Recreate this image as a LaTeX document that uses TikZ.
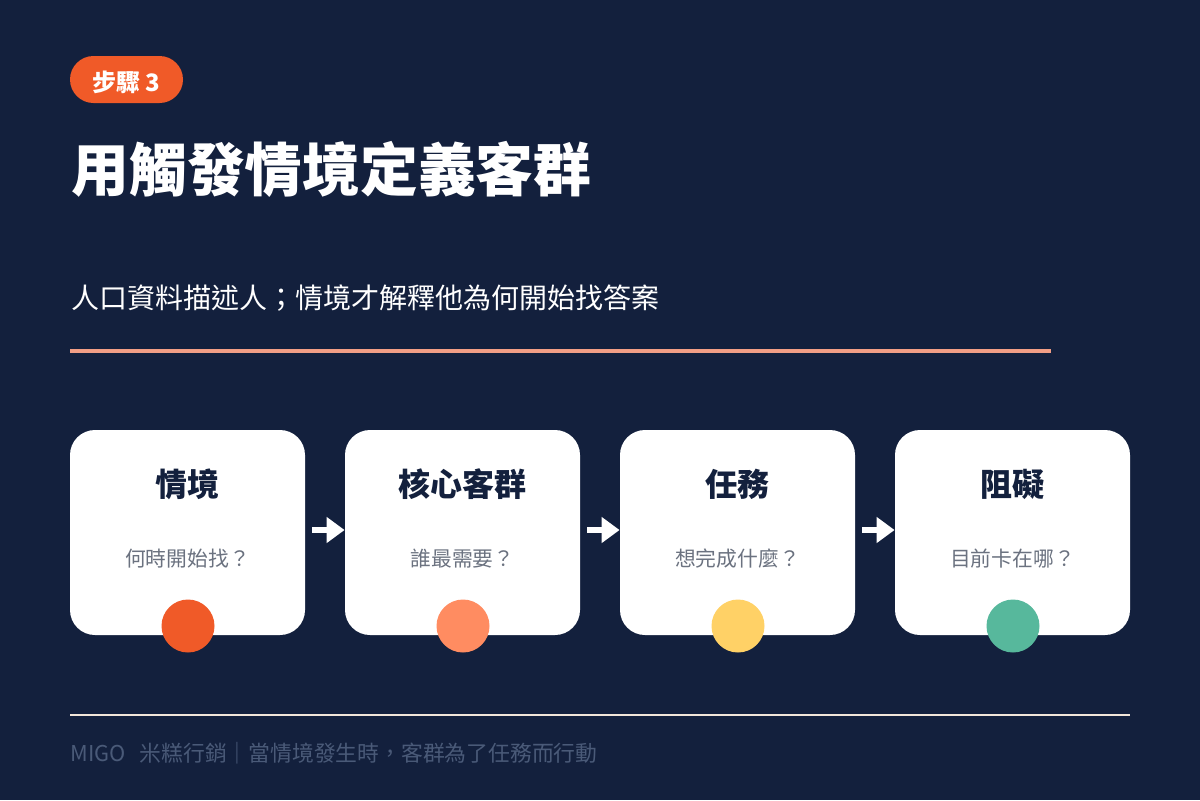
\documentclass[tikz,border=0pt]{standalone}
\usepackage{fontspec}
\setmainfont{Noto Sans CJK TC}
\usetikzlibrary{arrows.meta}
\definecolor{bg}{HTML}{13203D}
\definecolor{accent}{HTML}{F05A28}
\definecolor{lineor}{HTML}{F29E85}
\definecolor{cream}{HTML}{F2E6DA}
\definecolor{navy}{HTML}{13203D}
\definecolor{subgray}{HTML}{6B7280}
\definecolor{foot}{HTML}{4A5A78}
\definecolor{cA}{HTML}{F05A28}
\definecolor{cB}{HTML}{FF8C61}
\definecolor{cC}{HTML}{FFD166}
\definecolor{cD}{HTML}{57B89C}
\tikzset{
  card/.style={fill=white, rounded corners=12.5pt, minimum width=117.5pt, minimum height=102.5pt, inner sep=0pt},
  cardtitle/.style={anchor=base, text=navy, font=\bfseries\fontsize{16}{18}\selectfont, inner sep=0pt},
  cardsub/.style={anchor=base, text=subgray, font=\fontsize{10.4}{12}\selectfont, inner sep=0pt},
  dot/.style={circle, minimum size=26.5pt, inner sep=0pt},
  flow/.style={draw=white, line width=3pt, -{Triangle[length=9pt, width=12.5pt]}}
}
\begin{document}
\begin{tikzpicture}[x=0.5pt, y=-0.5pt]
\fill[bg] (0,0) rectangle (1200,800);
\useasboundingbox (0,0) rectangle (1200,800);
% pill
\node[fill=accent, rounded corners=11.75pt, minimum width=56.5pt, minimum height=23.5pt, inner sep=0pt] (pill) at (126.5,79.5) {};
\node[anchor=base, text=white, font=\bfseries\fontsize{12}{14}\selectfont, inner sep=0pt] (pilltext) at (126.5,91) {步驟 3};
% title
\node[anchor=base west, text=white, font=\bfseries\fontsize{28.9}{32}\selectfont, inner sep=0pt] (title) at (71,191) {用觸發情境定義客群};
\node[anchor=base west, text=white, font=\fontsize{14}{16}\selectfont, inner sep=0pt] (subtitle) at (71,308) {人口資料描述人；情境才解釋他為何開始找答案};
% orange rule
\coordinate (r1) at (70,351);
\coordinate (r2) at (1051,351);
\draw[lineor, line width=2pt] (r1) -- (r2);
% cards
\node[card] (c1) at (187.5,532.5) {};
\node[card] (c2) at (462.5,532.5) {};
\node[card] (c3) at (737.5,532.5) {};
\node[card] (c4) at (1012.5,532.5) {};
\node[cardtitle] (t1) at (187.5,496) {情境};
\node[cardtitle] (t2) at (462.5,496) {核心客群};
\node[cardtitle] (t3) at (737.5,496) {任務};
\node[cardtitle] (t4) at (1012.5,496) {阻礙};
\node[cardsub] (s1) at (187.5,566) {何時開始找？};
\node[cardsub] (s2) at (462.5,566) {誰最需要？};
\node[cardsub] (s3) at (737.5,566) {想完成什麼？};
\node[cardsub] (s4) at (1012.5,566) {目前卡在哪？};
\node[dot, fill=cA] (d1) at (188,626) {};
\node[dot, fill=cB] (d2) at (463,626) {};
\node[dot, fill=cC] (d3) at (738,626) {};
\node[dot, fill=cD] (d4) at (1013,626) {};
% arrows
\coordinate (a1) at (312,530);
\coordinate (a2) at (587,530);
\coordinate (a3) at (862,530);
\draw[flow] (a1) -- (c2.west |- a1);
\draw[flow] (a2) -- (c3.west |- a2);
\draw[flow] (a3) -- (c4.west |- a3);
% footer
\coordinate (f1) at (70,715);
\coordinate (f2) at (1130,715);
\draw[cream, line width=1pt] (f1) -- (f2);
\node[anchor=base west, text=foot, font=\fontsize{10.9}{12}\selectfont, inner sep=0pt] (footer) at (70,761) {MIGO\hspace{7pt}米糕行銷｜當情境發生時，客群為了任務而行動};
\end{tikzpicture}
\end{document}
